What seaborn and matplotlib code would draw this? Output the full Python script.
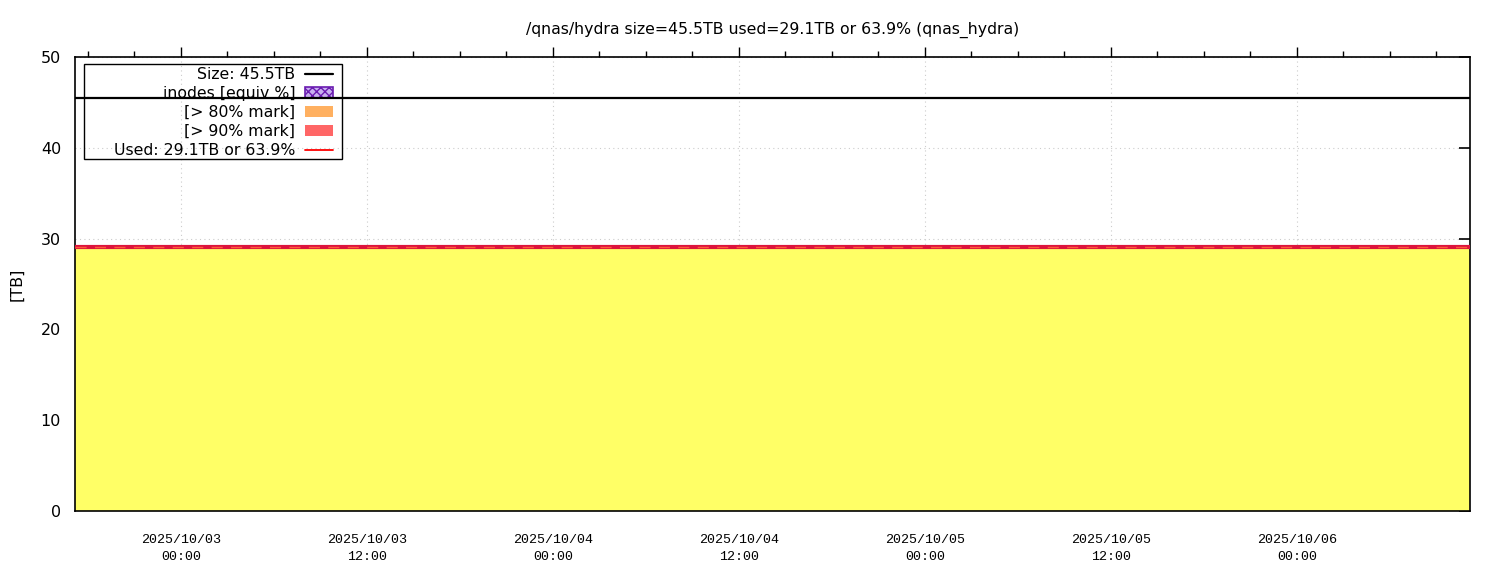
import pandas as pd
import numpy as np
import matplotlib.pyplot as plt
import matplotlib.dates as mdates
import seaborn as sns
from matplotlib.lines import Line2D
from matplotlib.patches import Patch, Rectangle

# --- data ---
times = ["2025-10-02 17:10", "2025-10-03 00:00", "2025-10-03 12:00", "2025-10-04 00:00",
         "2025-10-04 12:00", "2025-10-05 00:00", "2025-10-05 12:00", "2025-10-06 00:00",
         "2025-10-06 11:10"]
used_tb = [29.1, 29.1, 29.1, 29.1, 29.1, 29.1, 29.1, 29.1, 29.1]
size_tb = 45.5
used_pct = 63.9
mount = "/qnas/hydra"
label = "qnas_hydra"

df = pd.DataFrame({"time": pd.to_datetime(times), "used": used_tb})

sns.set_style("white")
plt.rcParams["font.family"] = ["DejaVu Sans"]
for k in ["text.color", "axes.labelcolor", "xtick.color", "ytick.color"]:
    plt.rcParams[k] = "black"

W, H = 1500, 575
fig = plt.figure(figsize=(15, 5.75), dpi=100)
ax = fig.add_axes([75 / W, 1 - 511 / H, 1395 / W, 454 / H])

# used area + line
ax.fill_between(df["time"], 0, df["used"], color="#ffff66", linewidth=0, zorder=1)
sns.lineplot(data=df, x="time", y="used", color="#dc143c", linewidth=3, ax=ax, zorder=3)
ax.plot(df["time"], df["used"], color="#ff5a3c", linewidth=1, dashes=(8, 6), zorder=4)
ax.axhline(size_tb, color="black", linewidth=1.6, zorder=12)

ax.set_xlim(df["time"].iloc[0], df["time"].iloc[-1])
ax.set_ylim(0, 50)
ax.set_yticks(np.arange(0, 51, 10))
ax.set_ylabel("[TB]", fontsize=11.5, labelpad=12)
ax.set_xlabel("")

ax.xaxis.set_major_locator(mdates.HourLocator(byhour=[0, 12]))
ax.xaxis.set_minor_locator(mdates.HourLocator(byhour=[3, 6, 9, 15, 18, 21]))
ax.xaxis.set_major_formatter(mdates.DateFormatter("%Y/%m/%d\n%H:%M"))
for t in ax.get_xticklabels():
    t.set_family("Liberation Mono")
    t.set_fontsize(9.6)
    t.set_linespacing(1.55)
ax.tick_params(axis="x", which="major", direction="out", length=7, top=True, pad=9.5, width=1)
ax.tick_params(axis="x", which="minor", direction="out", length=4, top=True, width=1)
ax.tick_params(axis="y", which="major", direction="in", length=8, right=True,
               labelsize=11.5, pad=10, width=1.2)

ax.grid(True, which="major", color="#cccccc", linestyle=(0, (1, 3)), linewidth=0.8)
for s in ax.spines.values():
    s.set_color("black")
    s.set_linewidth(1.2)

ax.set_title(f"{mount} size={size_tb}TB used={used_tb[-1]}TB or {used_pct}% ({label})",
             fontsize=11.3, pad=17)

# legend box (gnuplot style, labels right aligned before the samples)
ax.add_patch(Rectangle((84 / W, 1 - 159 / H), 258 / W, 95 / H, transform=fig.transFigure,
                       facecolor="none", edgecolor="black", linewidth=1.0, zorder=9,
                       clip_on=False))
handles = [
    Line2D([], [], color="black", linewidth=1.6),
    Patch(facecolor="#c8b0f0", edgecolor="#6a1bb0", hatch="xxxx", linewidth=1.2),
    Patch(facecolor="#ffb060", edgecolor="none"),
    Patch(facecolor="#ff6666", edgecolor="none"),
    Line2D([], [], color="#ff0000", linewidth=1.3),
]
labels = [f"Size: {size_tb}TB", "inodes [equiv %]", "[> 80% mark]", "[> 90% mark]",
          f"Used: {used_tb[-1]}TB or {used_pct}%"]
leg = ax.legend(handles, labels, loc="upper right", bbox_to_anchor=(333 / W, 1 - 67 / H),
                bbox_transform=fig.transFigure,
                markerfirst=False, fontsize=11.3, frameon=False,
                borderpad=0, labelspacing=0.26, handlelength=1.8, handleheight=0.7,
                handletextpad=0.6, borderaxespad=0)
leg.set_zorder(10)
for t in leg.get_texts():
    t.set_ha("right")

fig.savefig("out.png", dpi=100)
